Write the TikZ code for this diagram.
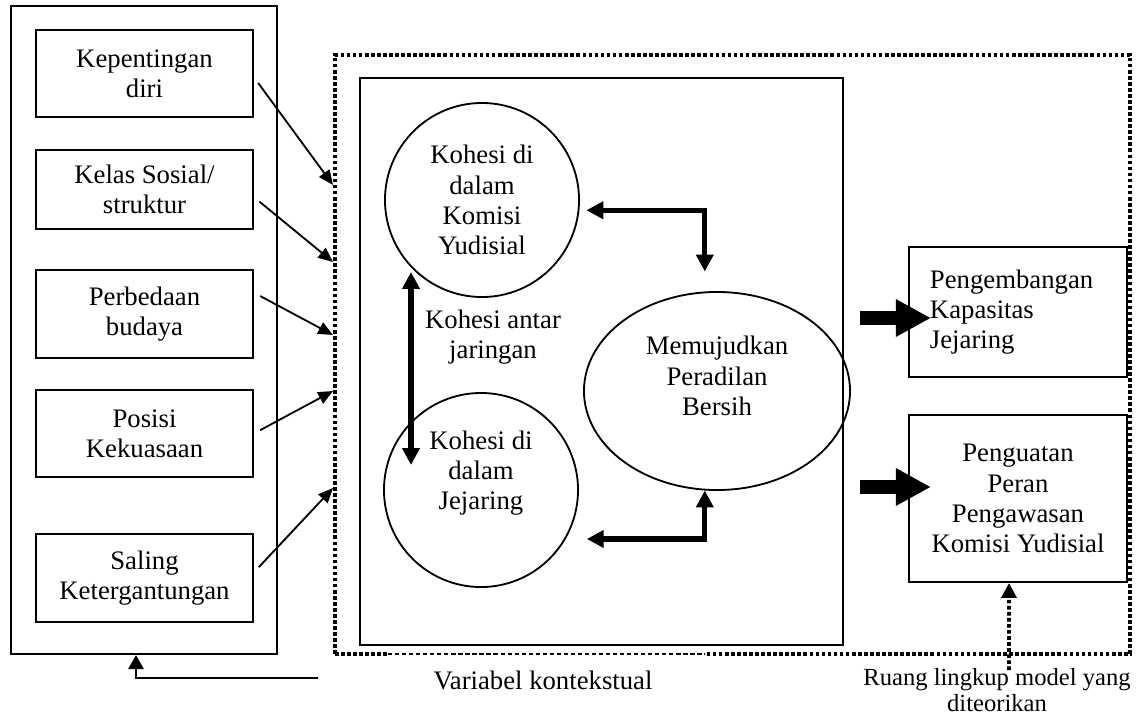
\documentclass[tikz,border=0pt]{standalone}
\usepackage{fontspec}
\setmainfont{Liberation Serif}
\usetikzlibrary{arrows.meta,shapes.geometric,calc}
\tikzset{
	kotak/.style={draw, line width=1.4pt, rectangle, inner sep=0pt, align=center},
	lingkar/.style={draw, line width=1.3pt, circle, minimum size=4.85cm, inner sep=0pt, align=center},
	teks/.style={align=center, inner sep=0pt},
	titik/.style={line width=2.8pt, dash pattern=on 2.6pt off 1.7pt},
	panah tipis/.style={line width=1.3pt, -{Triangle[length=10.5pt,width=9pt]}},
	panah tebal/.style={line width=3.6pt, {Triangle[length=12pt,width=12pt]}-{Triangle[length=12pt,width=12pt]}},
	panah blok/.style={line width=10pt, -{Triangle[length=25pt,width=25pt]}},
}
\begin{document}
\begin{tikzpicture}[x=0.025cm, y=-0.025cm, every node/.style={font=\fontsize{19}{21.5}\selectfont}]
	\useasboundingbox (0,0) rectangle (1142,717);
	% faktor di kiri
	\node[kotak, minimum width=6.65cm, minimum height=16.2cm] (faktor) at (144,330) {};
	\node[kotak, minimum width=5.425cm, minimum height=2.175cm] (kep) at (144.5,73.5) {Kepentingan\\diri};
	\node[kotak, minimum width=5.425cm, minimum height=1.975cm] (kelas) at (144.5,189.5) {Kelas Sosial/\\struktur};
	\node[kotak, minimum width=5.425cm, minimum height=2.2cm] (beda) at (144.5,314) {Perbedaan\\budaya};
	\node[kotak, minimum width=5.425cm, minimum height=2.175cm] (posisi) at (144.5,433.5) {Posisi\\Kekuasaan};
	\node[kotak, minimum width=5.425cm, minimum height=2.2cm] (saling) at (144.5,578) {Saling\\Ketergantungan};
	% bingkai titik-titik
	\draw[titik] (335,654) -- (335,55) -- (1130,55) -- (1130,654) -- (705,654);
	\draw[titik] (335,654) -- (388,654);
	\draw[line width=0.9pt, dash pattern=on 3pt off 2pt] (388,654) -- (705,654);
	\draw[line width=1.4pt] (360,78) rectangle (843,645);
	% lingkaran dan elips
	\node[lingkar] (kys) at (482,200) {Kohesi di\\dalam\\Komisi\\Yudisial};
	\node[lingkar] (jej) at (481,490) {};
	\node[draw, line width=1.3pt, ellipse, minimum width=6.65cm, minimum height=4.95cm, inner sep=0pt] (mem) at (717,391) {};
	\node[teks] (jejtxt) at (481,473) {Kohesi di\\dalam\\Jejaring};
	\node[teks] (memtxt) at (717,376) {Memujudkan\\Peradilan\\Bersih};
	\node[teks] (antar) at (493,337) {Kohesi antar\\jaringan};
	% kotak di kanan
	\node[kotak, minimum width=5.45cm, minimum height=3.25cm, text width=4.4cm, align=left, inner xsep=0.525cm] (kap) at (1018,312) {Pengembangan\\Kapasitas\\Jejaring};
	\node[kotak, minimum width=5.45cm, minimum height=4.175cm] (pen) at (1018,498.5) {Penguatan\\Peran\\Pengawasan\\Komisi Yudisial};
	\node[teks] (var) at (543,680) {Variabel kontekstual};
	\node[teks, font=\fontsize{17.5}{19}\selectfont] (ruang) at (997,690) {Ruang lingkup model yang\\diteorikan};
	% panah
	\coordinate (t1) at (333,185);
	\coordinate (t2) at (333,262);
	\coordinate (t3) at (333,335);
	\coordinate (t4) at (333,391);
	\coordinate (t5) at (333,488);
	\draw[panah tipis, shorten <=0.175cm] (kep.-2) -- (t1);
	\draw[panah tipis, shorten <=0.175cm] (kelas.-4) -- (t2);
	\draw[panah tipis, shorten <=0.175cm] (beda.11) -- (t3);
	\draw[panah tipis, shorten <=0.175cm] (posisi.east) -- (t4);
	\draw[panah tipis, shorten <=0.175cm] (saling.3) -- (t5);
	\coordinate (va) at (411,272);
	\coordinate (vb) at (411,465);
	\draw[panah tebal] (va) -- (vb);
	\draw[panah tebal, shorten <=0.175cm, shorten >=0.5cm] (kys.-6) -| (mem.97);
	\draw[panah tebal, shorten <=0.525cm] (jej.-30) -| (mem.-97);
	\coordinate (ba) at (860,318);
	\coordinate (bb) at (860,487);
	\draw[panah blok, shorten >=-0.575cm] (ba) -- (ba -| kap.west);
	\draw[panah blok, shorten >=-0.575cm] (bb) -- (bb -| pen.west);
	\coordinate (fb) at (318,678);
	\draw[line width=1.3pt, -{Triangle[length=10pt,width=11pt]}] (fb) -| ([xshift=-0.2cm]faktor.south);
	\coordinate (rl) at (1009,670);
	\draw[titik, -{Triangle[length=10.5pt,width=10.5pt]}] (rl) -- ([xshift=-0.225cm]pen.south);
\end{tikzpicture}
\end{document}
